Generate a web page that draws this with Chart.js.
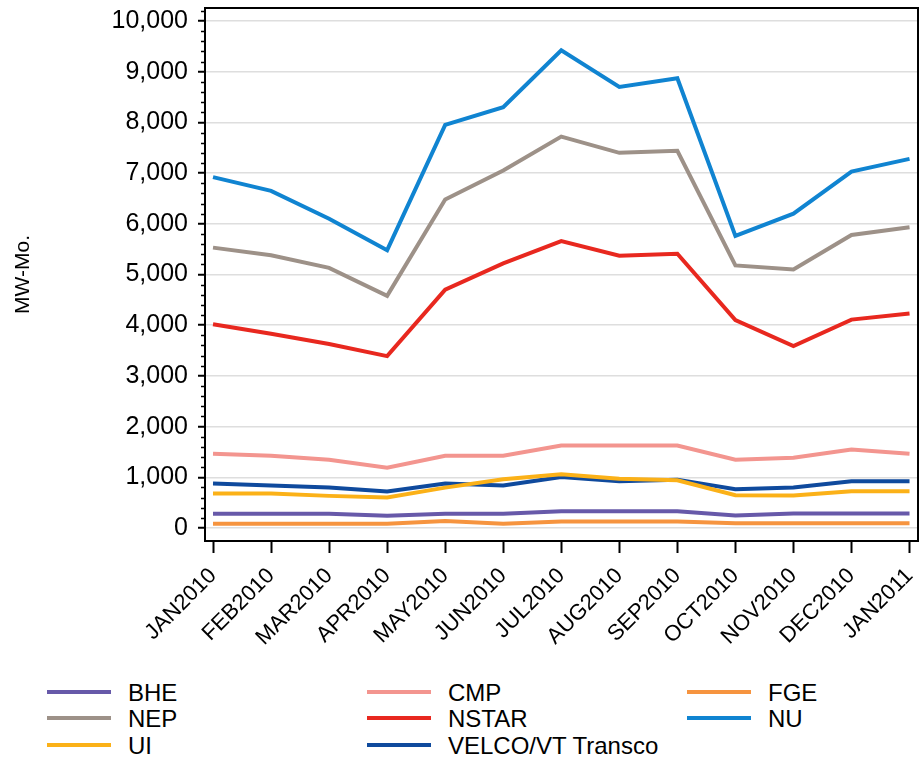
<!DOCTYPE html>
<html>
<head>
<meta charset="utf-8">
<script src="https://cdn.jsdelivr.net/npm/chart.js@4.4.1/dist/chart.umd.min.js"></script>
<style>
  html, body { margin: 0; padding: 0; background: #fff; }
  #wrap { position: relative; width: 919px; height: 762px; }
  #box { position: absolute; left: 0; top: 0; width: 919px; height: 665px; }
  .item { position: absolute; height: 26px; line-height: 26px; white-space: nowrap;
          font: 24px 'Liberation Sans', Arial, sans-serif; color: #000; }
  .item i { position: absolute; left: 0; top: 11px; width: 64px; height: 4px; }
  .item span { position: absolute; left: 81px; top: 0; }
</style>
</head>
<body>
<div id="wrap">
  <div id="box"><canvas id="c"></canvas></div>
</div>
<script>
const MONTHS = ['JAN2010','FEB2010','MAR2010','APR2010','MAY2010','JUN2010','JUL2010',
                'AUG2010','SEP2010','OCT2010','NOV2010','DEC2010','JAN2011']
const Y_TICKS = [0,1000,2000,3000,4000,5000,6000,7000,8000,9000,10000]

const BHE   = [281, 281, 281, 242, 281, 281, 333, 333, 333, 248, 288, 288, 288]
const CMP   = [1464, 1425, 1346, 1190, 1425, 1425, 1627, 1627, 1627, 1346, 1386, 1549, 1464]
const FGE   = [85, 85, 85, 85, 137, 85, 131, 131, 131, 92, 92, 92, 92]
const NEP   = [5530, 5380, 5130, 4580, 6480, 7050, 7720, 7400, 7440, 5180, 5100, 5780, 5930]
const NSTAR = [4020, 3830, 3630, 3390, 4700, 5220, 5660, 5370, 5410, 4100, 3590, 4110, 4230]
const NU    = [6920, 6650, 6100, 5480, 7950, 8300, 9420, 8700, 8870, 5760, 6200, 7030, 7280]
const UI    = [680, 680, 634, 601, 797, 961, 1059, 974, 941, 647, 641, 725, 725]
const VELCO = [876, 837, 797, 719, 876, 837, 1006, 922, 954, 765, 797, 922, 922]

const SERIES = [
  ['BHE', BHE], ['CMP', CMP], ['FGE', FGE],
  ['NEP', NEP], ['NSTAR', NSTAR], ['NU', NU],
  ['UI', UI], ['VELCO/VT Transco', VELCO],
]
const COLORS = {
  'BHE': '#6759a9', 'CMP': '#f3958f', 'FGE': '#f6943f', 'NEP': '#9d9188',
  'NSTAR': '#e8281f', 'NU': '#1084d1', 'UI': '#fbb118', 'VELCO/VT Transco': '#0f4a9d',
}

Chart.defaults.font.family = "'Liberation Sans', Arial, sans-serif"
Chart.defaults.color = '#000'

// frame round the plot + short minor ticks on the value axis
const frame = {
  id: 'frame',
  beforeDatasetsDraw(chart) {
    const { ctx, chartArea: a, scales: { y } } = chart
    ctx.save()
    ctx.strokeStyle = '#000'
    ctx.lineWidth = 2
    ctx.strokeRect(a.left, a.top, a.right - a.left, a.bottom - a.top)
    ctx.lineWidth = 1.5
    ctx.beginPath()
    for (let v = 200; v < y.max; v += 200) {
      if (v % 1000 === 0) continue
      const py = Math.round(y.getPixelForValue(v)) + 0.5
      ctx.moveTo(a.left - 4, py)
      ctx.lineTo(a.left, py)
    }
    ctx.stroke()
    ctx.restore()
  },
}

const datasets = SERIES.map(([name, vals]) => ({
  label: name,
  data: vals.map((v, i) => ({ x: i, y: v })),
  borderColor: COLORS[name],
  backgroundColor: COLORS[name],
  borderWidth: 4,
  pointRadius: 0,
  tension: 0,
}))

new Chart(document.getElementById('c'), {
  type: 'line',
  data: { datasets },
  plugins: [frame],
  options: {
    responsive: true,
    maintainAspectRatio: false,
    animation: false,
    layout: { padding: { top: 8, right: 1, left: 0, bottom: 0 } },
    plugins: { legend: { display: false }, tooltip: { enabled: false } },
    scales: {
      x: {
        type: 'linear',
        min: -0.138,
        max: 12.146,
        afterBuildTicks: s => { s.ticks = MONTHS.map((_, i) => ({ value: i })) },
        afterFit: s => { s.height = 665 - 541; s.paddingLeft = 0; s.paddingRight = 0 },
        ticks: {
          autoSkip: false, minRotation: 45, maxRotation: 45, padding: 10,
          font: { size: 22 },
          callback: v => MONTHS[v],
        },
        grid: { drawOnChartArea: false, tickLength: 12, tickColor: '#000', tickWidth: 2 },
        border: { display: false },
      },
      y: {
        min: -256,
        max: 10256,
        afterBuildTicks: s => { s.ticks = Y_TICKS.map(v => ({ value: v })) },
        afterFit: s => { s.width = 205; s.paddingTop = 0; s.paddingBottom = 0 },
        ticks: { padding: 10, font: { size: 25 }, callback: v => v.toLocaleString('en-US') },
        grid: { color: '#dedede', lineWidth: 1.5, tickLength: 7, tickColor: '#000', tickWidth: 2 },
        border: { display: false },
        title: { display: true, text: 'MW-Mo.', font: { size: 21 }, padding: { top: 11, bottom: 0 } },
      },
    },
  },
})

// legend: three fixed columns, filled row by row
const COL_X = [47, 367, 687]
const ROW_Y = [679, 705, 732]
const wrap = document.getElementById('wrap')
SERIES.forEach(([name], i) => {
  const el = document.createElement('div')
  el.className = 'item'
  el.style.left = COL_X[i % 3] + 'px'
  el.style.top = ROW_Y[Math.floor(i / 3)] + 'px'
  el.innerHTML = '<i style="background:' + COLORS[name] + '"></i><span>' + name + '</span>'
  wrap.appendChild(el)
})
</script>
</body>
</html>
